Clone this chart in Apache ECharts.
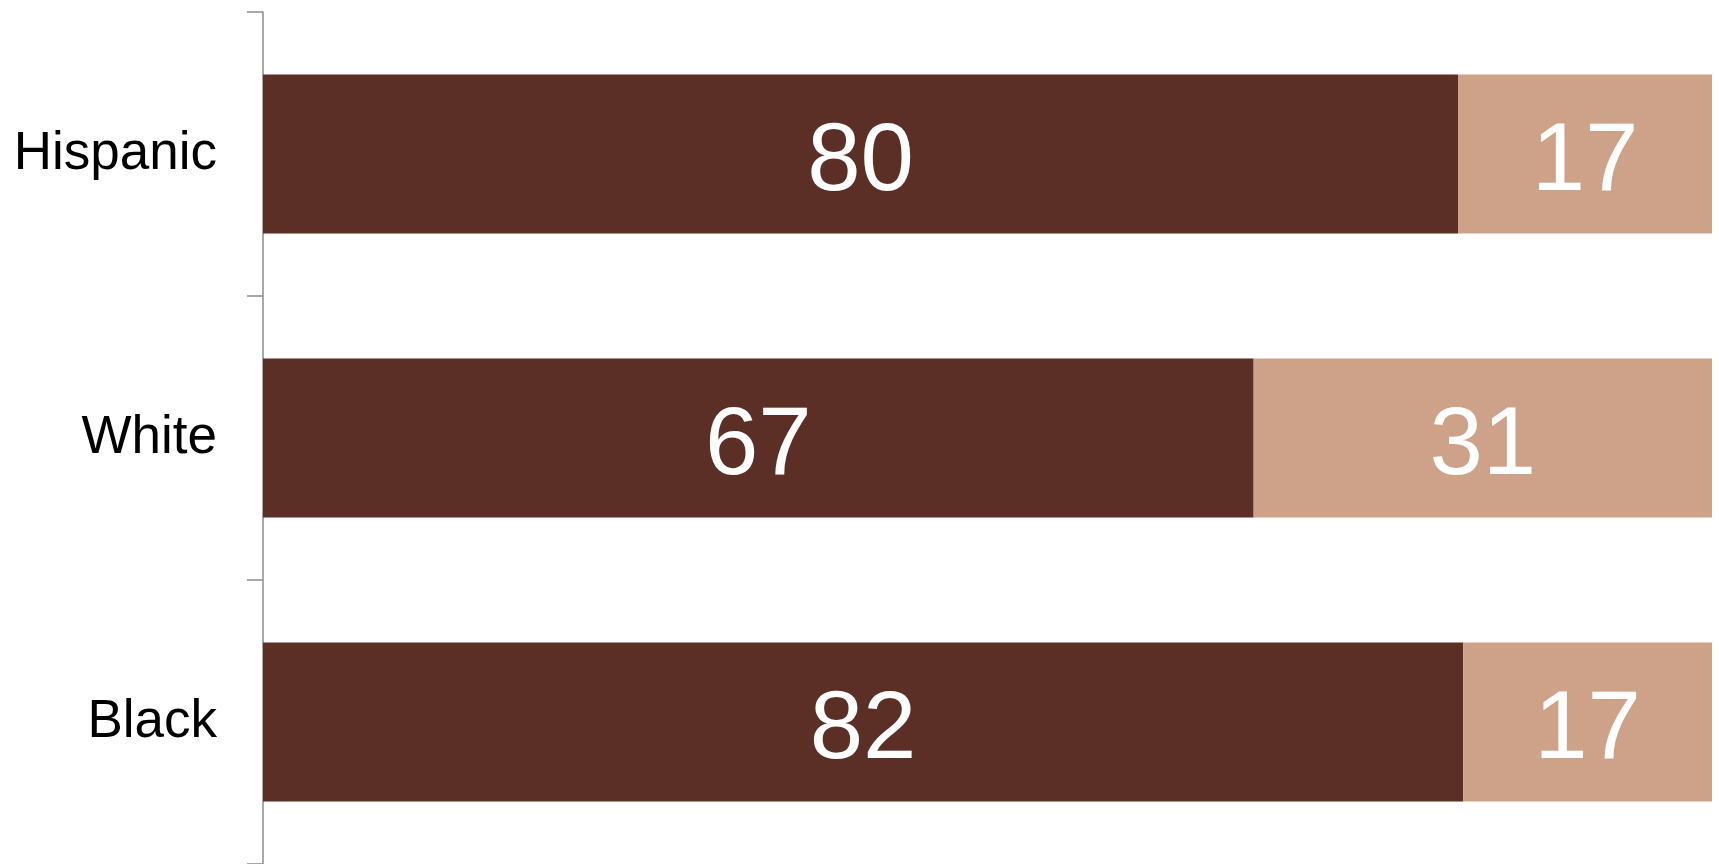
<!DOCTYPE html>
<html>
<head>
<meta charset="utf-8">
<script src="https://cdn.jsdelivr.net/npm/echarts@6/dist/echarts.min.js"></script>
<style>
  html, body { margin: 0; padding: 0; background: #fff; }
  #chart { width: 1719px; height: 864px; }
</style>
</head>
<body>
<div id="chart"></div>
<script>
const categories = ['Hispanic', 'White', 'Black']
const firstValues = [80, 67, 82]
const secondValues = [17, 31, 17]
const colors = ['#5c2f26', '#cea189']

// each row is drawn as a share of its own total, labels keep the raw numbers
const share = (vals, i) => vals[i] / (firstValues[i] + secondValues[i]) * 100

const chart = echarts.init(document.getElementById('chart'))

const labelStyle = {
  show: true,
  position: 'inside',
  offset: [0, 10],
  color: '#fff',
  fontSize: 96,
  fontFamily: 'Liberation Sans, Arial, sans-serif'
}

chart.setOption({
  animation: false,
  grid: { left: 263, right: 7, top: 12, height: 855 },
  xAxis: {
    type: 'value',
    min: 0,
    max: 100,
    show: false
  },
  yAxis: {
    type: 'category',
    inverse: true,
    data: categories,
    axisLine: { show: true, lineStyle: { color: '#8c8c8c', width: 1.5 } },
    axisTick: { show: true, length: 16, lineStyle: { color: '#8c8c8c', width: 1.5 } },
    axisLabel: {
      color: '#000',
      fontSize: 53,
      margin: 46,
      padding: [10, 0, 0, 0],
      fontFamily: 'Liberation Sans, Arial, sans-serif'
    }
  },
  series: [
    {
      type: 'bar',
      stack: 'total',
      barCategoryGap: '44%',
      itemStyle: { color: colors[0] },
      label: Object.assign({}, labelStyle, { formatter: p => firstValues[p.dataIndex] }),
      data: firstValues.map((v, i) => share(firstValues, i))
    },
    {
      type: 'bar',
      stack: 'total',
      barCategoryGap: '44%',
      itemStyle: { color: colors[1] },
      label: Object.assign({}, labelStyle, { formatter: p => secondValues[p.dataIndex] }),
      data: secondValues.map((v, i) => share(secondValues, i))
    }
  ]
})
</script>
</body>
</html>
